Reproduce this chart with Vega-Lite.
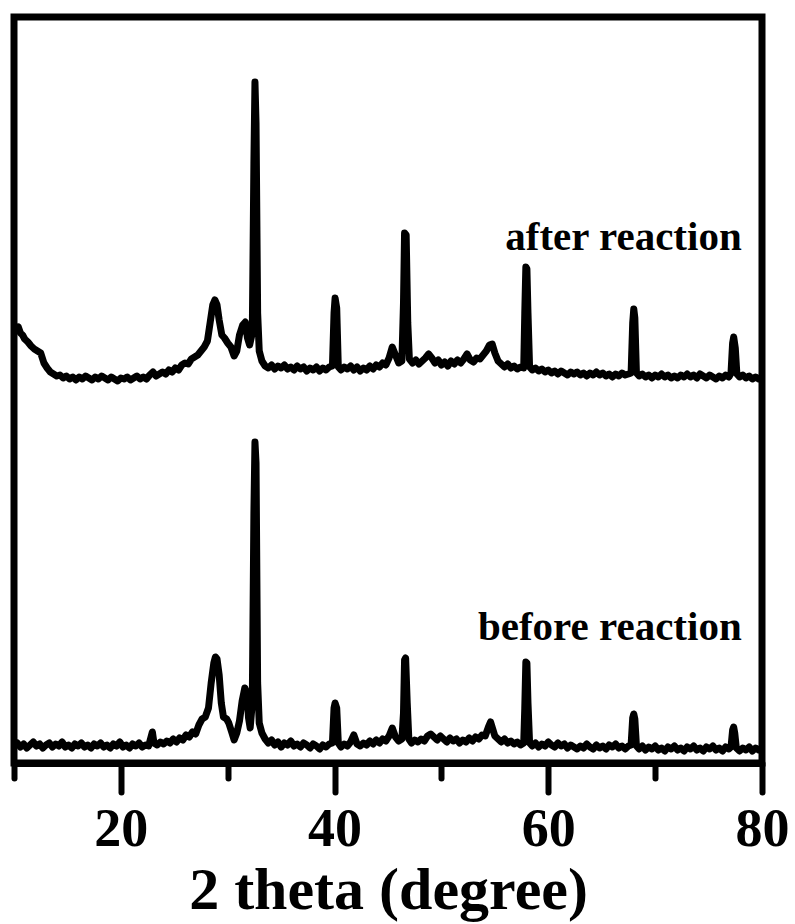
{
  "$schema": "https://vega.github.io/schema/vega-lite/v6.json",
  "width": 748,
  "height": 746,
  "autosize": "none",
  "padding": {"left": 14, "top": 17, "right": 33, "bottom": 161},
  "background": "white",
  "config": {
    "view": {"stroke": "black", "strokeWidth": 7},
    "font": "Liberation Serif"
  },
  "datasets": {
    "traces": [
      {"s":"before","x":10.0,"y":17},{"s":"before","x":10.3,"y":20},{"s":"before","x":10.6,"y":16},{"s":"before","x":10.9,"y":19},{"s":"before","x":11.2,"y":15},{"s":"before","x":11.5,"y":18},{"s":"before","x":11.8,"y":21},{"s":"before","x":12.1,"y":17},{"s":"before","x":12.4,"y":19},{"s":"before","x":12.7,"y":15},{"s":"before","x":13.0,"y":18},{"s":"before","x":13.3,"y":20},{"s":"before","x":13.6,"y":16},{"s":"before","x":13.9,"y":19},{"s":"before","x":14.2,"y":17},{"s":"before","x":14.5,"y":21},{"s":"before","x":14.8,"y":16},{"s":"before","x":15.1,"y":18},{"s":"before","x":15.4,"y":15},{"s":"before","x":15.7,"y":19},{"s":"before","x":16.0,"y":17},{"s":"before","x":16.3,"y":20},{"s":"before","x":16.6,"y":16},{"s":"before","x":16.9,"y":18},{"s":"before","x":17.2,"y":15},{"s":"before","x":17.5,"y":19},{"s":"before","x":17.8,"y":17},{"s":"before","x":18.1,"y":20},{"s":"before","x":18.4,"y":16},{"s":"before","x":18.7,"y":18},{"s":"before","x":19.0,"y":15},{"s":"before","x":19.3,"y":19},{"s":"before","x":19.6,"y":17},{"s":"before","x":19.9,"y":21},{"s":"before","x":20.2,"y":16},{"s":"before","x":20.5,"y":18},{"s":"before","x":20.8,"y":15},{"s":"before","x":21.1,"y":19},{"s":"before","x":21.4,"y":17},{"s":"before","x":21.7,"y":20},{"s":"before","x":22.0,"y":16},{"s":"before","x":22.3,"y":18},{"s":"before","x":22.6,"y":17},{"s":"before","x":22.85,"y":27},{"s":"before","x":22.95,"y":31},{"s":"before","x":23.1,"y":20},{"s":"before","x":23.4,"y":18},{"s":"before","x":23.7,"y":21},{"s":"before","x":24.0,"y":19},{"s":"before","x":24.3,"y":22},{"s":"before","x":24.6,"y":20},{"s":"before","x":24.9,"y":24},{"s":"before","x":25.2,"y":21},{"s":"before","x":25.5,"y":25},{"s":"before","x":25.8,"y":23},{"s":"before","x":26.1,"y":28},{"s":"before","x":26.4,"y":26},{"s":"before","x":26.7,"y":31},{"s":"before","x":27.0,"y":29},{"s":"before","x":27.3,"y":38},{"s":"before","x":27.6,"y":44},{"s":"before","x":27.9,"y":46},{"s":"before","x":28.2,"y":55},{"s":"before","x":28.45,"y":80},{"s":"before","x":28.7,"y":100},{"s":"before","x":28.85,"y":106},{"s":"before","x":29.0,"y":104},{"s":"before","x":29.2,"y":88},{"s":"before","x":29.4,"y":60},{"s":"before","x":29.6,"y":46},{"s":"before","x":29.9,"y":44},{"s":"before","x":30.1,"y":40},{"s":"before","x":30.4,"y":30},{"s":"before","x":30.6,"y":23},{"s":"before","x":30.85,"y":30},{"s":"before","x":31.1,"y":42},{"s":"before","x":31.35,"y":62},{"s":"before","x":31.6,"y":75},{"s":"before","x":31.8,"y":70},{"s":"before","x":31.95,"y":45},{"s":"before","x":32.1,"y":35},{"s":"before","x":32.3,"y":60},{"s":"before","x":32.45,"y":250},{"s":"before","x":32.55,"y":321},{"s":"before","x":32.65,"y":300},{"s":"before","x":32.8,"y":80},{"s":"before","x":32.95,"y":40},{"s":"before","x":33.2,"y":30},{"s":"before","x":33.5,"y":24},{"s":"before","x":33.8,"y":20},{"s":"before","x":34.1,"y":23},{"s":"before","x":34.4,"y":18},{"s":"before","x":34.7,"y":21},{"s":"before","x":35.0,"y":16},{"s":"before","x":35.3,"y":20},{"s":"before","x":35.6,"y":18},{"s":"before","x":35.9,"y":22},{"s":"before","x":36.2,"y":17},{"s":"before","x":36.5,"y":19},{"s":"before","x":36.8,"y":16},{"s":"before","x":37.1,"y":20},{"s":"before","x":37.4,"y":18},{"s":"before","x":37.7,"y":15},{"s":"before","x":38.0,"y":19},{"s":"before","x":38.3,"y":17},{"s":"before","x":38.6,"y":14},{"s":"before","x":38.9,"y":18},{"s":"before","x":39.2,"y":16},{"s":"before","x":39.5,"y":19},{"s":"before","x":39.8,"y":20},{"s":"before","x":39.95,"y":55},{"s":"before","x":40.05,"y":60},{"s":"before","x":40.2,"y":55},{"s":"before","x":40.35,"y":20},{"s":"before","x":40.6,"y":16},{"s":"before","x":40.9,"y":19},{"s":"before","x":41.2,"y":17},{"s":"before","x":41.5,"y":21},{"s":"before","x":41.8,"y":28},{"s":"before","x":42.1,"y":19},{"s":"before","x":42.4,"y":17},{"s":"before","x":42.7,"y":20},{"s":"before","x":43.0,"y":18},{"s":"before","x":43.3,"y":22},{"s":"before","x":43.6,"y":19},{"s":"before","x":43.9,"y":23},{"s":"before","x":44.2,"y":20},{"s":"before","x":44.5,"y":24},{"s":"before","x":44.8,"y":22},{"s":"before","x":45.1,"y":27},{"s":"before","x":45.4,"y":35},{"s":"before","x":45.7,"y":26},{"s":"before","x":46.0,"y":22},{"s":"before","x":46.3,"y":24},{"s":"before","x":46.45,"y":50},{"s":"before","x":46.55,"y":103},{"s":"before","x":46.65,"y":105},{"s":"before","x":46.8,"y":60},{"s":"before","x":46.95,"y":24},{"s":"before","x":47.2,"y":20},{"s":"before","x":47.5,"y":23},{"s":"before","x":47.8,"y":21},{"s":"before","x":48.1,"y":24},{"s":"before","x":48.4,"y":22},{"s":"before","x":48.7,"y":27},{"s":"before","x":49.0,"y":29},{"s":"before","x":49.3,"y":26},{"s":"before","x":49.6,"y":23},{"s":"before","x":49.9,"y":27},{"s":"before","x":50.2,"y":24},{"s":"before","x":50.5,"y":21},{"s":"before","x":50.8,"y":25},{"s":"before","x":51.1,"y":22},{"s":"before","x":51.4,"y":24},{"s":"before","x":51.7,"y":20},{"s":"before","x":52.0,"y":23},{"s":"before","x":52.3,"y":21},{"s":"before","x":52.6,"y":25},{"s":"before","x":52.9,"y":22},{"s":"before","x":53.2,"y":26},{"s":"before","x":53.5,"y":24},{"s":"before","x":53.8,"y":28},{"s":"before","x":54.1,"y":27},{"s":"before","x":54.4,"y":36},{"s":"before","x":54.6,"y":41},{"s":"before","x":54.8,"y":34},{"s":"before","x":55.0,"y":27},{"s":"before","x":55.3,"y":24},{"s":"before","x":55.6,"y":21},{"s":"before","x":55.9,"y":24},{"s":"before","x":56.2,"y":20},{"s":"before","x":56.5,"y":22},{"s":"before","x":56.8,"y":19},{"s":"before","x":57.1,"y":21},{"s":"before","x":57.4,"y":18},{"s":"before","x":57.7,"y":20},{"s":"before","x":57.8,"y":55},{"s":"before","x":57.9,"y":101},{"s":"before","x":58.0,"y":100},{"s":"before","x":58.1,"y":60},{"s":"before","x":58.25,"y":20},{"s":"before","x":58.5,"y":17},{"s":"before","x":58.8,"y":20},{"s":"before","x":59.1,"y":16},{"s":"before","x":59.4,"y":19},{"s":"before","x":59.7,"y":17},{"s":"before","x":60.0,"y":21},{"s":"before","x":60.3,"y":18},{"s":"before","x":60.6,"y":16},{"s":"before","x":60.9,"y":20},{"s":"before","x":61.2,"y":17},{"s":"before","x":61.5,"y":19},{"s":"before","x":61.8,"y":15},{"s":"before","x":62.1,"y":18},{"s":"before","x":62.4,"y":16},{"s":"before","x":62.7,"y":14},{"s":"before","x":63.0,"y":17},{"s":"before","x":63.3,"y":15},{"s":"before","x":63.6,"y":19},{"s":"before","x":63.9,"y":16},{"s":"before","x":64.2,"y":14},{"s":"before","x":64.5,"y":18},{"s":"before","x":64.8,"y":15},{"s":"before","x":65.1,"y":17},{"s":"before","x":65.4,"y":14},{"s":"before","x":65.7,"y":18},{"s":"before","x":66.0,"y":16},{"s":"before","x":66.3,"y":19},{"s":"before","x":66.6,"y":15},{"s":"before","x":66.9,"y":17},{"s":"before","x":67.2,"y":14},{"s":"before","x":67.5,"y":17},{"s":"before","x":67.75,"y":18},{"s":"before","x":67.9,"y":45},{"s":"before","x":68.0,"y":49},{"s":"before","x":68.1,"y":44},{"s":"before","x":68.25,"y":17},{"s":"before","x":68.5,"y":14},{"s":"before","x":68.8,"y":17},{"s":"before","x":69.1,"y":13},{"s":"before","x":69.4,"y":16},{"s":"before","x":69.7,"y":14},{"s":"before","x":70.0,"y":17},{"s":"before","x":70.3,"y":13},{"s":"before","x":70.6,"y":15},{"s":"before","x":70.9,"y":12},{"s":"before","x":71.2,"y":16},{"s":"before","x":71.5,"y":14},{"s":"before","x":71.8,"y":17},{"s":"before","x":72.1,"y":13},{"s":"before","x":72.4,"y":15},{"s":"before","x":72.7,"y":12},{"s":"before","x":73.0,"y":16},{"s":"before","x":73.3,"y":14},{"s":"before","x":73.6,"y":17},{"s":"before","x":73.9,"y":13},{"s":"before","x":74.2,"y":15},{"s":"before","x":74.5,"y":12},{"s":"before","x":74.8,"y":16},{"s":"before","x":75.1,"y":14},{"s":"before","x":75.4,"y":17},{"s":"before","x":75.7,"y":13},{"s":"before","x":76.0,"y":15},{"s":"before","x":76.3,"y":12},{"s":"before","x":76.6,"y":16},{"s":"before","x":76.9,"y":14},{"s":"before","x":77.1,"y":16},{"s":"before","x":77.25,"y":33},{"s":"before","x":77.35,"y":36},{"s":"before","x":77.45,"y":30},{"s":"before","x":77.6,"y":15},{"s":"before","x":77.9,"y":12},{"s":"before","x":78.2,"y":15},{"s":"before","x":78.5,"y":13},{"s":"before","x":78.8,"y":16},{"s":"before","x":79.1,"y":12},{"s":"before","x":79.4,"y":15},{"s":"before","x":79.7,"y":13},{"s":"before","x":80.0,"y":15},
      {"s":"after","x":10.0,"y":438},{"s":"after","x":10.2,"y":434},{"s":"after","x":10.4,"y":436},{"s":"after","x":10.6,"y":430},{"s":"after","x":10.8,"y":428},{"s":"after","x":11.0,"y":424},{"s":"after","x":11.3,"y":421},{"s":"after","x":11.6,"y":417},{"s":"after","x":11.9,"y":414},{"s":"after","x":12.2,"y":412},{"s":"after","x":12.5,"y":410},{"s":"after","x":12.8,"y":400},{"s":"after","x":13.1,"y":395},{"s":"after","x":13.4,"y":391},{"s":"after","x":13.7,"y":389},{"s":"after","x":14.0,"y":387},{"s":"after","x":14.3,"y":388},{"s":"after","x":14.6,"y":385},{"s":"after","x":14.9,"y":387},{"s":"after","x":15.2,"y":384},{"s":"after","x":15.5,"y":386},{"s":"after","x":15.8,"y":383},{"s":"after","x":16.1,"y":386},{"s":"after","x":16.4,"y":384},{"s":"after","x":16.7,"y":387},{"s":"after","x":17.0,"y":385},{"s":"after","x":17.3,"y":383},{"s":"after","x":17.6,"y":386},{"s":"after","x":17.9,"y":384},{"s":"after","x":18.2,"y":387},{"s":"after","x":18.5,"y":385},{"s":"after","x":18.8,"y":383},{"s":"after","x":19.1,"y":386},{"s":"after","x":19.4,"y":384},{"s":"after","x":19.7,"y":382},{"s":"after","x":20.0,"y":385},{"s":"after","x":20.3,"y":384},{"s":"after","x":20.6,"y":386},{"s":"after","x":20.9,"y":383},{"s":"after","x":21.2,"y":385},{"s":"after","x":21.5,"y":387},{"s":"after","x":21.8,"y":384},{"s":"after","x":22.1,"y":386},{"s":"after","x":22.4,"y":384},{"s":"after","x":22.7,"y":388},{"s":"after","x":23.0,"y":391},{"s":"after","x":23.3,"y":387},{"s":"after","x":23.6,"y":389},{"s":"after","x":23.9,"y":391},{"s":"after","x":24.2,"y":389},{"s":"after","x":24.5,"y":393},{"s":"after","x":24.8,"y":391},{"s":"after","x":25.1,"y":395},{"s":"after","x":25.4,"y":393},{"s":"after","x":25.7,"y":398},{"s":"after","x":26.0,"y":400},{"s":"after","x":26.3,"y":399},{"s":"after","x":26.6,"y":404},{"s":"after","x":26.9,"y":406},{"s":"after","x":27.2,"y":408},{"s":"after","x":27.5,"y":412},{"s":"after","x":27.8,"y":416},{"s":"after","x":28.1,"y":422},{"s":"after","x":28.35,"y":440},{"s":"after","x":28.6,"y":458},{"s":"after","x":28.8,"y":463},{"s":"after","x":29.0,"y":458},{"s":"after","x":29.2,"y":443},{"s":"after","x":29.45,"y":428},{"s":"after","x":29.7,"y":425},{"s":"after","x":30.0,"y":420},{"s":"after","x":30.3,"y":416},{"s":"after","x":30.6,"y":407},{"s":"after","x":30.85,"y":412},{"s":"after","x":31.1,"y":428},{"s":"after","x":31.4,"y":438},{"s":"after","x":31.65,"y":441},{"s":"after","x":31.85,"y":425},{"s":"after","x":32.05,"y":418},{"s":"after","x":32.3,"y":430},{"s":"after","x":32.45,"y":600},{"s":"after","x":32.55,"y":681},{"s":"after","x":32.65,"y":640},{"s":"after","x":32.8,"y":450},{"s":"after","x":32.95,"y":412},{"s":"after","x":33.2,"y":402},{"s":"after","x":33.5,"y":397},{"s":"after","x":33.8,"y":395},{"s":"after","x":34.1,"y":398},{"s":"after","x":34.4,"y":394},{"s":"after","x":34.7,"y":397},{"s":"after","x":35.0,"y":395},{"s":"after","x":35.3,"y":398},{"s":"after","x":35.6,"y":394},{"s":"after","x":35.9,"y":396},{"s":"after","x":36.2,"y":393},{"s":"after","x":36.5,"y":397},{"s":"after","x":36.8,"y":394},{"s":"after","x":37.1,"y":396},{"s":"after","x":37.4,"y":392},{"s":"after","x":37.7,"y":395},{"s":"after","x":38.0,"y":393},{"s":"after","x":38.3,"y":396},{"s":"after","x":38.6,"y":392},{"s":"after","x":38.9,"y":395},{"s":"after","x":39.2,"y":393},{"s":"after","x":39.5,"y":396},{"s":"after","x":39.8,"y":397},{"s":"after","x":39.95,"y":450},{"s":"after","x":40.05,"y":465},{"s":"after","x":40.2,"y":455},{"s":"after","x":40.35,"y":396},{"s":"after","x":40.6,"y":393},{"s":"after","x":40.9,"y":396},{"s":"after","x":41.2,"y":394},{"s":"after","x":41.5,"y":397},{"s":"after","x":41.8,"y":393},{"s":"after","x":42.1,"y":396},{"s":"after","x":42.4,"y":392},{"s":"after","x":42.7,"y":395},{"s":"after","x":43.0,"y":393},{"s":"after","x":43.3,"y":397},{"s":"after","x":43.6,"y":394},{"s":"after","x":43.9,"y":398},{"s":"after","x":44.2,"y":396},{"s":"after","x":44.5,"y":400},{"s":"after","x":44.8,"y":398},{"s":"after","x":45.1,"y":405},{"s":"after","x":45.4,"y":416},{"s":"after","x":45.7,"y":408},{"s":"after","x":46.0,"y":400},{"s":"after","x":46.3,"y":402},{"s":"after","x":46.45,"y":460},{"s":"after","x":46.55,"y":530},{"s":"after","x":46.7,"y":528},{"s":"after","x":46.85,"y":440},{"s":"after","x":47.0,"y":404},{"s":"after","x":47.3,"y":400},{"s":"after","x":47.6,"y":403},{"s":"after","x":47.9,"y":399},{"s":"after","x":48.2,"y":402},{"s":"after","x":48.5,"y":405},{"s":"after","x":48.8,"y":409},{"s":"after","x":49.1,"y":405},{"s":"after","x":49.4,"y":400},{"s":"after","x":49.7,"y":403},{"s":"after","x":50.0,"y":398},{"s":"after","x":50.3,"y":401},{"s":"after","x":50.6,"y":397},{"s":"after","x":50.9,"y":402},{"s":"after","x":51.2,"y":399},{"s":"after","x":51.5,"y":403},{"s":"after","x":51.8,"y":400},{"s":"after","x":52.1,"y":404},{"s":"after","x":52.4,"y":409},{"s":"after","x":52.7,"y":403},{"s":"after","x":53.0,"y":401},{"s":"after","x":53.3,"y":405},{"s":"after","x":53.6,"y":404},{"s":"after","x":53.9,"y":408},{"s":"after","x":54.2,"y":412},{"s":"after","x":54.5,"y":418},{"s":"after","x":54.75,"y":419},{"s":"after","x":55.0,"y":410},{"s":"after","x":55.3,"y":402},{"s":"after","x":55.6,"y":399},{"s":"after","x":55.9,"y":396},{"s":"after","x":56.2,"y":399},{"s":"after","x":56.5,"y":395},{"s":"after","x":56.8,"y":397},{"s":"after","x":57.1,"y":394},{"s":"after","x":57.4,"y":396},{"s":"after","x":57.7,"y":395},{"s":"after","x":57.8,"y":450},{"s":"after","x":57.9,"y":496},{"s":"after","x":58.0,"y":494},{"s":"after","x":58.1,"y":450},{"s":"after","x":58.25,"y":396},{"s":"after","x":58.5,"y":393},{"s":"after","x":58.8,"y":395},{"s":"after","x":59.1,"y":392},{"s":"after","x":59.4,"y":394},{"s":"after","x":59.7,"y":391},{"s":"after","x":60.0,"y":393},{"s":"after","x":60.3,"y":390},{"s":"after","x":60.6,"y":392},{"s":"after","x":60.9,"y":389},{"s":"after","x":61.2,"y":392},{"s":"after","x":61.5,"y":390},{"s":"after","x":61.8,"y":388},{"s":"after","x":62.1,"y":391},{"s":"after","x":62.4,"y":389},{"s":"after","x":62.7,"y":391},{"s":"after","x":63.0,"y":388},{"s":"after","x":63.3,"y":390},{"s":"after","x":63.6,"y":387},{"s":"after","x":63.9,"y":390},{"s":"after","x":64.2,"y":388},{"s":"after","x":64.5,"y":391},{"s":"after","x":64.8,"y":388},{"s":"after","x":65.1,"y":390},{"s":"after","x":65.4,"y":387},{"s":"after","x":65.7,"y":389},{"s":"after","x":66.0,"y":386},{"s":"after","x":66.3,"y":389},{"s":"after","x":66.6,"y":387},{"s":"after","x":66.9,"y":390},{"s":"after","x":67.2,"y":388},{"s":"after","x":67.5,"y":389},{"s":"after","x":67.75,"y":390},{"s":"after","x":67.9,"y":440},{"s":"after","x":68.0,"y":454},{"s":"after","x":68.1,"y":445},{"s":"after","x":68.25,"y":390},{"s":"after","x":68.5,"y":387},{"s":"after","x":68.8,"y":389},{"s":"after","x":69.1,"y":386},{"s":"after","x":69.4,"y":388},{"s":"after","x":69.7,"y":385},{"s":"after","x":70.0,"y":388},{"s":"after","x":70.3,"y":386},{"s":"after","x":70.6,"y":389},{"s":"after","x":70.9,"y":386},{"s":"after","x":71.2,"y":388},{"s":"after","x":71.5,"y":385},{"s":"after","x":71.8,"y":387},{"s":"after","x":72.1,"y":385},{"s":"after","x":72.4,"y":388},{"s":"after","x":72.7,"y":386},{"s":"after","x":73.0,"y":389},{"s":"after","x":73.3,"y":386},{"s":"after","x":73.6,"y":388},{"s":"after","x":73.9,"y":385},{"s":"after","x":74.2,"y":389},{"s":"after","x":74.5,"y":387},{"s":"after","x":74.8,"y":385},{"s":"after","x":75.1,"y":388},{"s":"after","x":75.4,"y":386},{"s":"after","x":75.7,"y":384},{"s":"after","x":76.0,"y":387},{"s":"after","x":76.3,"y":385},{"s":"after","x":76.6,"y":388},{"s":"after","x":76.9,"y":386},{"s":"after","x":77.1,"y":390},{"s":"after","x":77.25,"y":420},{"s":"after","x":77.35,"y":426},{"s":"after","x":77.5,"y":415},{"s":"after","x":77.65,"y":389},{"s":"after","x":77.9,"y":386},{"s":"after","x":78.2,"y":388},{"s":"after","x":78.5,"y":385},{"s":"after","x":78.8,"y":387},{"s":"after","x":79.1,"y":384},{"s":"after","x":79.4,"y":386},{"s":"after","x":79.7,"y":384},{"s":"after","x":80.0,"y":386}
    ],
    "labels": [
      {"label": "after reaction", "x": 78.1, "y": 513},
      {"label": "before reaction", "x": 78.1, "y": 123}
    ]
  },
  "layer": [
    {
      "data": {"name": "traces"},
      "mark": {"type": "line", "color": "black", "strokeWidth": 7, "strokeJoin": "round", "strokeCap": "round", "clip": true},
      "encoding": {
        "x": {
          "field": "x", "type": "quantitative",
          "scale": {"domain": [10, 80], "nice": false, "zero": false},
          "axis": {
            "values": [10, 20, 30, 40, 50, 60, 70, 80],
            "grid": false,
            "domainColor": "black", "domainWidth": 7,
            "tickColor": "black", "tickWidth": 6, "tickCap": "round",
            "tickSize": {"condition": {"test": "datum.value % 20 === 0", "value": 29}, "value": 15},
            "labelExpr": "datum.value % 20 === 0 ? datum.label : ''",
            "labelFont": "Liberation Serif", "labelFontWeight": "bold", "labelFontSize": 54,
            "labelColor": "black", "labelPadding": 10, "labelFlush": false, "labelOverlap": false,
            "title": "2 theta (degree)",
            "titleFont": "Liberation Serif", "titleFontWeight": "bold", "titleFontSize": 60,
            "titleColor": "black", "titlePadding": 5
          }
        },
        "y": {
          "field": "y", "type": "quantitative",
          "scale": {"domain": [0, 746], "nice": false, "zero": false},
          "axis": null
        },
        "detail": {"field": "s"}
      }
    },
    {
      "data": {"name": "labels"},
      "mark": {"type": "text", "align": "right", "baseline": "alphabetic", "font": "Liberation Serif", "fontWeight": "bold", "fontSize": 41, "color": "black"},
      "encoding": {
        "x": {"field": "x", "type": "quantitative"},
        "y": {"field": "y", "type": "quantitative"},
        "text": {"field": "label"}
      }
    }
  ]
}
